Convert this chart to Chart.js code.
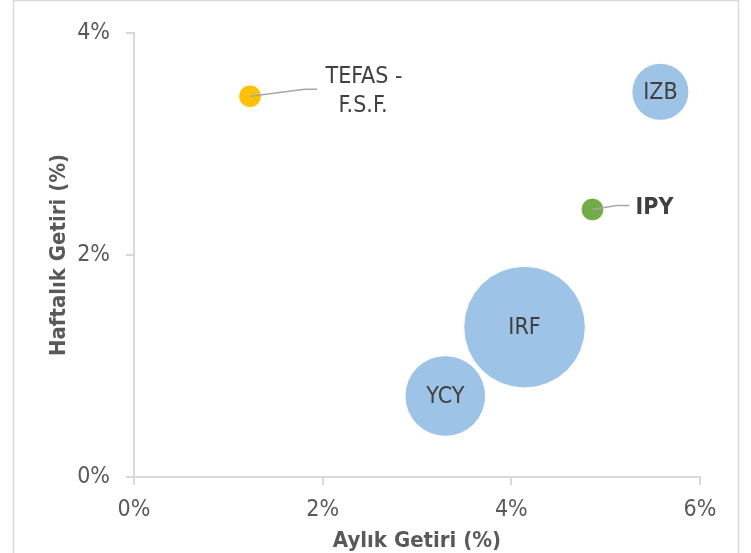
<!DOCTYPE html>
<html>
<head>
<meta charset="utf-8">
<script src="https://cdn.jsdelivr.net/npm/chart.js@4/dist/chart.umd.min.js"></script>
<style>
  body { margin: 0; background: #fff; }
  #wrap { width: 751px; height: 553px; }
</style>
</head>
<body>
<div id="wrap"><canvas id="chart" width="751" height="553"></canvas></div>
<script>
// fund names and returns (%)
const funds = ["TEFAS - F.S.F.", "IZB", "IPY", "IRF", "YCY"];
const monthly = [1.23, 5.58, 4.86, 4.14, 3.30];   // Aylık Getiri
const weekly = [3.43, 3.47, 2.41, 1.35, 0.73];    // Haftalık Getiri
const size = [3.5, 22, 3.5, 100, 44];             // bubble size value
const xTicks = [0, 2, 4, 6];
const yTicks = [0, 2, 4];

const FONT = "'Liberation Sans Narrow', 'DejaVu Sans Condensed', Roboto, sans-serif";
const fill = { "TEFAS - F.S.F.": "#FFC000", "IPY": "#70AD47" };

function radius(s) {
  return 60.8 * Math.sqrt(s / 100);
}

const points = funds.map(function (f, i) {
  return { x: monthly[i], y: weekly[i], r: radius(size[i]) };
});

// labels: inside the bubble, or beside it with a leader line
const labelPlugin = {
  id: "labels",
  beforeDraw(chart) {
    const ctx = chart.ctx;
    ctx.save();
    ctx.strokeStyle = "#D9D9D9";
    ctx.lineWidth = 1.5;
    ctx.strokeRect(13.5, 0.5, 725, 600);
    ctx.restore();
  },
  afterDatasetsDraw(chart) {
    const ctx = chart.ctx;
    const meta = chart.getDatasetMeta(0);
    ctx.save();
    ctx.fillStyle = "#404040";
    ctx.textAlign = "center";
    ctx.textBaseline = "middle";
    meta.data.forEach(function (el, i) {
      const name = funds[i];
      const p = el.getProps(["x", "y"], true);
      if (name === "TEFAS - F.S.F.") {
        ctx.strokeStyle = "#A6A6A6";
        ctx.lineWidth = 1.5;
        ctx.beginPath();
        ctx.moveTo(p.x, p.y);
        ctx.lineTo(p.x + 55, p.y - 7);
        ctx.lineTo(p.x + 67, p.y - 7);
        ctx.stroke();
        ctx.font = "23px " + FONT;
        ctx.fillText("TEFAS -", p.x + 114, p.y - 19);
        ctx.fillText("F.S.F.", p.x + 113, p.y + 10);
      } else if (name === "IPY") {
        ctx.strokeStyle = "#A6A6A6";
        ctx.lineWidth = 1.5;
        ctx.beginPath();
        ctx.moveTo(p.x, p.y);
        ctx.lineTo(p.x + 24, p.y - 4);
        ctx.lineTo(p.x + 37, p.y - 4);
        ctx.stroke();
        ctx.font = "bold 23px " + FONT;
        ctx.fillText(name, p.x + 62, p.y - 1);
      } else {
        ctx.font = "23px " + FONT;
        ctx.fillText(name, p.x, p.y + 1);
      }
    });
    ctx.restore();
  }
};

const ctx = document.getElementById("chart").getContext("2d");
const myChart = new Chart(ctx, {
  type: "bubble",
  data: {
    datasets: [
      {
        label: "Fonlar",
        data: points,
        backgroundColor: function (c) {
          return fill[funds[c.dataIndex]] || "#9DC3E6";
        },
        borderColor: "#ffffff",
        borderWidth: 1,
      },
    ],
  },
  options: {
    responsive: false,
    animation: false,
    events: [],
    layout: {
      autoPadding: false,
      padding: { left: 0, right: 51, top: 33, bottom: 0 },
    },
    plugins: {
      legend: { display: false },
      tooltip: { enabled: false },
    },
    scales: {
      x: {
        type: "linear",
        min: 0,
        max: 6,
        afterFit: function (s) { s.height = 76; },
        afterBuildTicks: function (s) { s.ticks = xTicks.map(v => ({ value: v })); },
        border: { color: "#D9D9D9", width: 2 },
        grid: { drawOnChartArea: false, drawTicks: true, tickLength: 8, color: "#D9D9D9", lineWidth: 2 },
        ticks: {
          padding: 11,
          color: "#595959",
          font: { family: FONT, size: 23 },
          callback: v => v + "%",
        },
        title: {
          display: true,
          text: "Aylık Getiri (%)",
          color: "#595959",
          font: { family: FONT, size: 22, weight: "bold", lineHeight: 1 },
          padding: { top: 0, bottom: 1 },
        },
      },
      y: {
        type: "linear",
        min: 0,
        max: 4,
        afterFit: function (s) { s.width = 134; },
        afterBuildTicks: function (s) { s.ticks = yTicks.map(v => ({ value: v })); },
        border: { color: "#D9D9D9", width: 2 },
        grid: { drawOnChartArea: false, drawTicks: true, tickLength: 8, color: "#D9D9D9", lineWidth: 2 },
        ticks: {
          padding: 16,
          color: "#595959",
          font: { family: FONT, size: 23 },
          callback: v => v + "%",
        },
        title: {
          display: true,
          text: "Haftalık Getiri (%)",
          color: "#595959",
          font: { family: FONT, size: 22, weight: "bold", lineHeight: 1 },
          padding: { top: 48, bottom: 0 },
        },
      },
    },
  },
  plugins: [labelPlugin],
});
</script>
</body>
</html>
